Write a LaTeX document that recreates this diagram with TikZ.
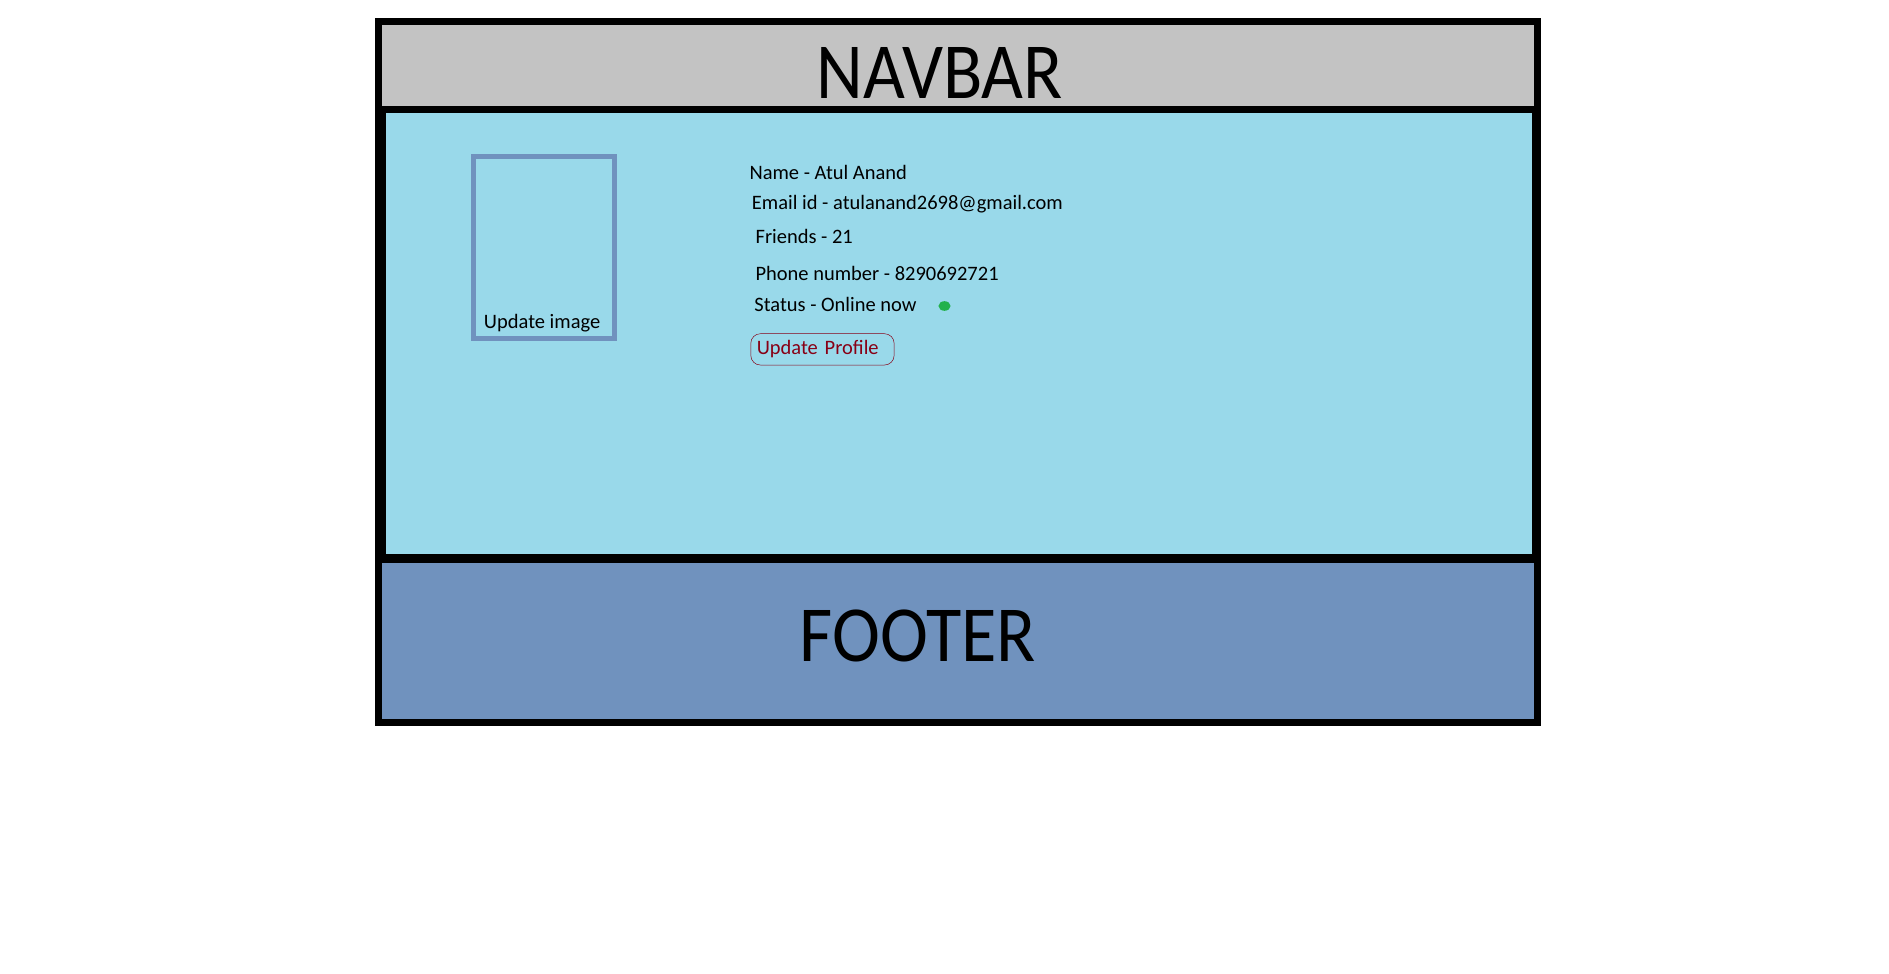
\documentclass[tikz,border=0pt]{standalone}
\usepackage{fontspec}
\setmainfont{Carlito}
\definecolor{navgray}{HTML}{C3C3C3}
\definecolor{bodyblue}{HTML}{99D9EA}
\definecolor{footblue}{HTML}{7092BE}
\definecolor{btnred}{HTML}{880015}
\definecolor{dotgreen}{HTML}{22B14C}
\begin{document}
\begin{tikzpicture}[x=1pt,y=-1pt,
    info/.style={anchor=west,inner sep=0pt,font=\fontsize{17}{20}\selectfont}]
    \useasboundingbox[fill=white] (0,0) rectangle (1568,808);
    % frame and panels
    \fill[black] (311,15) rectangle (1279,603);
    \fill[navgray] (317,21) rectangle (1273,88);
    \fill[bodyblue] (320,94) rectangle (1272,460);
    \fill[footblue] (317,467) rectangle (1273,597);
    \node[font=\fontsize{60}{60}\selectfont,yscale=1.1] (navbar) at (780,61) {NAVBAR};
    \node[font=\fontsize{60}{60}\selectfont,yscale=1.1] (footer) at (762,528) {FOOTER};
    % profile picture
    \node[draw=footblue,line width=4pt,minimum width=117pt,minimum height=151pt] (imgbox) at (451.5,205.5) {};
    \node[info,anchor=center] (imglabel) at (450,268) {Update image};
    % details
    \node[info] (name) at (622,143) {Name - Atul Anand};
    \node[info] (email) at (624,169.5) {Email id - atulanand2698@gmail.com};
    \node[info] (friends) at (627,196) {Friends - 21};
    \node[info] (phone) at (627,227) {Phone number - 8290692721};
    \node[info] (status) at (626,253) {Status - Online now};
    \fill[dotgreen] (784,254) ellipse (5 and 4);
    \node[info,draw=btnred,text=btnred,rounded corners=8pt,text width=109pt,align=left,
          inner xsep=5pt,minimum height=26pt] (update) at (623,290) {Update Profile};
\end{tikzpicture}
\end{document}
